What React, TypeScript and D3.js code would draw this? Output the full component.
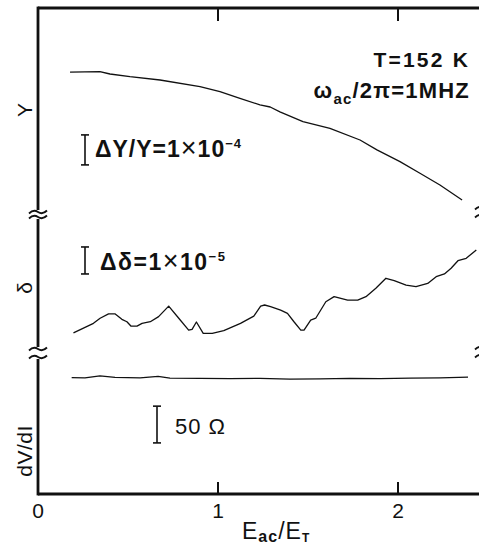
import React from 'react'
import * as d3 from 'd3'

// E_ac / E_T positions (x) and trace values for each panel
const yTraceX = [0.178, 0.344, 0.4, 0.511, 0.678, 0.9, 1.011, 1.122, 1.233, 1.29, 1.344, 1.472, 1.622, 1.789, 1.883, 2.011, 2.122, 2.233, 2.356]
// Y in units of ΔY/Y = 1e-4 (relative)
const yTraceV = [4.66, 4.68, 4.6, 4.51, 4.4, 4.18, 4.01, 3.79, 3.57, 3.5, 3.34, 3.01, 2.79, 2.4, 2.07, 1.68, 1.29, 0.9, 0.4]

const deltaX = [0.197, 0.308, 0.345, 0.392, 0.429, 0.466, 0.494, 0.516, 0.55, 0.578, 0.624, 0.67, 0.726, 0.782, 0.837, 0.856, 0.88, 0.918, 0.968, 1.032, 1.125, 1.199, 1.237, 1.259, 1.292, 1.348, 1.386, 1.422, 1.46, 1.478, 1.515, 1.543, 1.599, 1.645, 1.72, 1.776, 1.822, 1.877, 1.933, 1.979, 2.045, 2.1, 2.165, 2.212, 2.258, 2.295, 2.333, 2.379, 2.435]
// δ in units of Δδ = 1e-5 (relative)
const deltaV = [0.6, 0.95, 1.14, 1.3, 1.3, 1.1, 1.01, 0.85, 0.85, 0.95, 1.01, 1.2, 1.59, 1.14, 0.7, 0.73, 1.0, 0.58, 0.58, 0.68, 0.95, 1.22, 1.59, 1.63, 1.57, 1.44, 1.32, 1.01, 0.7, 0.7, 1.07, 1.14, 1.75, 1.94, 1.81, 1.81, 1.94, 2.25, 2.62, 2.53, 2.37, 2.31, 2.43, 2.68, 2.78, 2.99, 3.27, 3.36, 3.67]

const dvdiX = [0.187, 0.261, 0.344, 0.428, 0.567, 0.667, 0.733, 0.9, 1.067, 1.233, 1.4, 1.567, 1.733, 1.9, 2.067, 2.233, 2.389]
// dV/dI in ohms (relative)
const dvdiV = [158.4, 158, 160.7, 158.6, 158, 160, 157.6, 157.3, 156.9, 157.3, 156.2, 156.6, 157.3, 156.9, 157.6, 158, 159]

const xTicks = [0, 1, 2]
const xTickLabels = ['0', '1', '2']

const W = 479
const H = 548
const left = 38
const top = 8
const bottom = 494
const font = '"Liberation Sans", Arial, sans-serif'

const xScale = d3.scaleLinear().domain([0, 2.45]).range([left, W])
const yTop = d3.scaleLinear().domain([0, 6.8]).range([212, top])
const yMid = d3.scaleLinear().domain([0, 4.89]).range([349, 217])
const yBot = d3.scaleLinear().domain([0, 185]).range([bottom, 358])

function trace (xs: number[], vs: number[], ys: d3.ScaleLinear<number, number>) {
  const line = d3.line<number>()
    .x((d, i) => xScale(xs[i]))
    .y((d) => ys(d))
  return line(vs) || ''
}

function tilde (cx: number, cy: number, w: number) {
  const h = w / 2
  return `M${cx - h},${cy + 1.5} Q${cx - h / 2},${cy - 3} ${cx},${cy} T${cx + h},${cy - 1.5}`
}

function ScaleBar ({ x, y0, y1 }: { x: number, y0: number, y1: number }) {
  return (
    <g stroke="#111" strokeWidth={1.6}>
      <line x1={x} x2={x} y1={y0} y2={y1} />
      <line x1={x - 4} x2={x + 4} y1={y0} y2={y0} />
      <line x1={x - 4} x2={x + 4} y1={y1} y2={y1} />
    </g>
  )
}

export default function App () {
  const curveStyle = { fill: 'none', stroke: '#111', strokeWidth: 1.3, strokeLinejoin: 'round' as const }
  const breaksLeft = [[212, 349], [217, 357]]
  return (
    <svg width={W} height={H} style={{ position: 'absolute', left: 0, top: 0, background: '#fff' }}>
      {/* frame */}
      <g stroke="#111" strokeWidth={2.8} fill="none">
        <line x1={left} x2={W} y1={top} y2={top} />
        <line x1={left} x2={W} y1={bottom} y2={bottom} />
        <line x1={left} x2={left} y1={top - 1.4} y2={210} />
        <line x1={left} x2={left} y1={219} y2={347} />
        <line x1={left} x2={left} y1={359} y2={bottom + 1.4} />
      </g>
      {/* axis breaks */}
      <g stroke="#111" strokeWidth={1.8} fill="none">
        <path d={tilde(left, breaksLeft[0][0], 18)} />
        <path d={tilde(left, breaksLeft[1][0], 18)} />
        <path d={tilde(left, breaksLeft[0][1], 18)} />
        <path d={tilde(left, breaksLeft[1][1], 18)} />
        <path d={tilde(484, 208, 18)} />
        <path d={tilde(484, 216, 18)} />
        <path d={tilde(484, 348, 18)} />
        <path d={tilde(484, 356, 18)} />
      </g>
      {/* ticks */}
      <g stroke="#111" strokeWidth={2}>
        {xTicks.filter(t => t > 0).map(t => (
          <g key={t}>
            <line x1={xScale(t)} x2={xScale(t)} y1={top} y2={top + 13} />
            <line x1={xScale(t)} x2={xScale(t)} y1={bottom} y2={bottom - 12} />
          </g>
        ))}
      </g>
      <g fontFamily={font} fontSize={21} textAnchor="middle" fill="#111">
        {xTicks.map((t, i) => (
          <text key={t} x={xScale(t)} y={518}>{xTickLabels[i]}</text>
        ))}
      </g>
      {/* x label */}
      <text x={242} y={539} fontFamily={font} fontSize={23} fill="#111" letterSpacing={1}>
        E<tspan fontSize={16} dy={3} fontWeight="bold">ac</tspan><tspan dy={-3}>/E</tspan><tspan fontSize={12} dy={3} fontWeight="bold">T</tspan>
      </text>
      {/* y labels */}
      <g fontFamily={font} fontSize={21} fill="#111" textAnchor="middle">
        <text transform="translate(32,110) rotate(-90)">Y</text>
        <text transform="translate(32,288) rotate(-90)">δ</text>
        <text transform="translate(32,451) rotate(-90)" letterSpacing={0.5}>dV/dI</text>
      </g>
      {/* curves */}
      <path d={trace(yTraceX, yTraceV, yTop)} style={curveStyle} />
      <path d={trace(deltaX, deltaV, yMid)} style={curveStyle} />
      <path d={trace(dvdiX, dvdiV, yBot)} style={curveStyle} />
      {/* scale bars */}
      <ScaleBar x={85} y0={yTop(2.57)} y1={yTop(1.57)} />
      <ScaleBar x={85} y0={yMid(3.78)} y1={yMid(2.78)} />
      <ScaleBar x={157} y0={yBot(119.5)} y1={yBot(69.5)} />
      <g fontFamily={font} fontWeight="bold" fill="#111">
        <text x={95} y={157} fontSize={23} letterSpacing={1}>ΔY/Y=1<tspan fontSize={27} fontWeight="normal">×</tspan>10<tspan fontSize={13} dy={-9}>−4</tspan></text>
        <text x={100} y={270} fontSize={23} letterSpacing={1.5}>Δδ=1<tspan fontSize={27} fontWeight="normal">×</tspan>10<tspan fontSize={13} dy={-9}>−5</tspan></text>
        <text x={175} y={434} fontSize={22} fontWeight="normal" letterSpacing={1}>50  Ω</text>
        <text x={470} y={67} fontSize={21} textAnchor="end" letterSpacing={2.2}>T=152 K</text>
        <text x={470} y={98} fontSize={22} textAnchor="end" letterSpacing={1.2}>ω<tspan fontSize={15} dy={6}>ac</tspan><tspan dy={-6}>/2π=1MHZ</tspan></text>
      </g>
    </svg>
  )
}
